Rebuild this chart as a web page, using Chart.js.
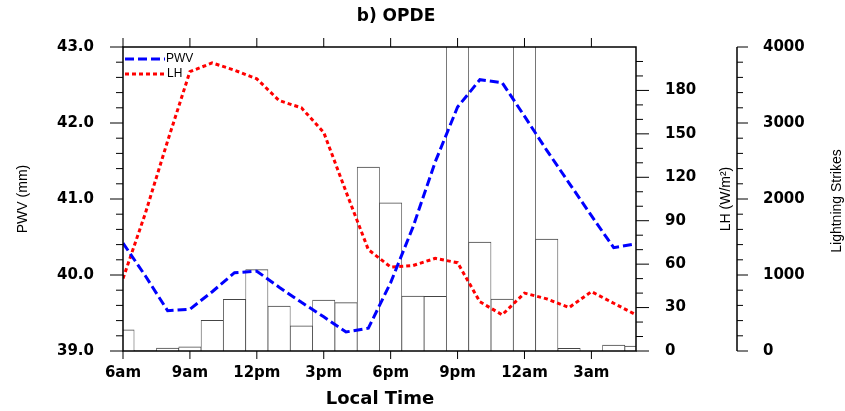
<!DOCTYPE html>
<html>
<head>
<meta charset="utf-8">
<script src="https://cdn.jsdelivr.net/npm/chart.js@4.4.1/dist/chart.umd.min.js"></script>
<style>
  html, body { margin: 0; padding: 0; background: #fff; }
  canvas { display: block; }
</style>
</head>
<body>
<canvas id="chart" width="845" height="411"></canvas>
<script>
// Hours after 6am local time (one sample per hour)
const hours = [0, 1, 2, 3, 4, 5, 6, 7, 8, 9, 10, 11, 12, 13, 14, 15, 16, 17, 18, 19, 20, 21, 22, 23];
const xTickHours = [0, 3, 6, 9, 12, 15, 18, 21];
const xTickLabels = ['6am', '9am', '12pm', '3pm', '6pm', '9pm', '12am', '3am'];

// Precipitable water vapour (mm)
const pwv = [40.42, 39.99, 39.53, 39.55, 39.78, 40.03, 40.05, 39.84, 39.64, 39.45, 39.25, 39.30,
             39.90, 40.63, 41.49, 42.21, 42.57, 42.53, 42.09, 41.64, 41.21, 40.78, 40.36, 40.41];
// Latent heat flux (W/m2)
const latentHeat = [50, 95, 145, 193, 199, 194, 188, 173, 168, 151, 110, 70,
                    58, 59, 64, 61, 34, 25, 40, 36, 30, 41, 33, 25];
// Lightning strikes per hour
const lightning = [280, 10, 38, 55, 405, 680, 1070, 592, 330, 670, 636, 2420,
                   1950, 724, 720, 4300, 1434, 684, 4200, 1474, 35, 0, 79, 66];

const pwvTicks = [39, 40, 41, 42, 43];
const lhTicks = [0, 30, 60, 90, 120, 150, 180];
const strikeTicks = [0, 1000, 2000, 3000, 4000];

const tickFont = { family: 'DejaVu Sans', weight: 'bold', size: 15 };

const frameAndLabels = {
  id: 'frameAndLabels',
  afterDraw(chart) {
    const { ctx, chartArea: a, scales } = chart;
    const xs = scales.x, yP = scales.yPWV, yH = scales.yLH, yS = scales.yL;
    const seg = (x1, y1, x2, y2) => { ctx.beginPath(); ctx.moveTo(x1, y1); ctx.lineTo(x2, y2); ctx.stroke(); };
    ctx.save();
    ctx.strokeStyle = '#000';

    // plot frame
    ctx.lineWidth = 1.5;
    ctx.strokeRect(a.left, a.top, a.right - a.left, a.bottom - a.top);
    // lightning axis spine
    seg(yS.left, a.top, yS.left, a.bottom);

    ctx.lineWidth = 1;
    // time ticks, bottom and top
    xTickHours.forEach(h => {
      const px = xs.getPixelForValue(h);
      seg(px, a.bottom, px, a.bottom + 8);
      seg(px, a.top, px, a.top - 9);
    });
    // PWV ticks (minor every 0.2)
    for (let i = 0; i <= 20; i++) {
      const py = yP.getPixelForValue(39 + i * 0.2);
      seg(a.left, py, a.left - (i % 5 === 0 ? 13 : 7), py);
    }
    // LH ticks (minor every 10)
    for (let i = 0; i <= 20; i++) {
      const py = yH.getPixelForValue(i * 10);
      seg(a.right, py, a.right + (i % 3 === 0 ? 13 : 7), py);
    }
    // lightning ticks (minor every 200)
    for (let i = 0; i <= 20; i++) {
      const py = yS.getPixelForValue(i * 200);
      seg(yS.left, py, yS.left + (i % 5 === 0 ? 11 : 6), py);
    }

    // legend
    ctx.lineWidth = 3;
    ctx.strokeStyle = '#0000ff';
    ctx.setLineDash([9, 4]);
    seg(a.left + 2, 59, a.left + 42, 59);
    ctx.strokeStyle = '#ff0000';
    ctx.setLineDash([4, 3]);
    seg(a.left + 2, 74, a.left + 42, 74);
    ctx.setLineDash([]);
    ctx.fillStyle = '#000';
    ctx.font = '12px "Liberation Sans"';
    ctx.textAlign = 'left';
    ctx.textBaseline = 'middle';
    ctx.fillText('PWV', a.left + 43, 59);
    ctx.fillText('LH', a.left + 44, 74);

    // titles
    ctx.textAlign = 'center';
    ctx.font = 'bold 17px "DejaVu Sans"';
    ctx.fillText('b) OPDE', 396, 17);
    ctx.font = 'bold 18px "DejaVu Sans"';
    ctx.fillText('Local Time', 380, 399);

    const vText = (t, x, y) => {
      ctx.save();
      ctx.translate(x, y);
      ctx.rotate(-Math.PI / 2);
      ctx.fillText(t, 0, 0);
      ctx.restore();
    };
    ctx.font = '14px "Liberation Sans"';
    vText('PWV (mm)', 23, 199);
    vText('LH (W/m\u00B2)', 726, 199);
    vText('Lightning Strikes', 837, 201);
    ctx.restore();
  }
};

const noGrid = { display: false, drawTicks: false, tickLength: 0 };

new Chart(document.getElementById('chart'), {
  type: 'bar',
  data: {
    datasets: [
      {
        type: 'line',
        label: 'PWV',
        data: hours.map((h, i) => ({ x: h, y: pwv[i] })),
        yAxisID: 'yPWV',
        borderColor: '#0000ff',
        borderWidth: 3,
        borderDash: [9, 4],
        pointRadius: 0,
        tension: 0,
        fill: false,
        clip: 0,
        order: 1
      },
      {
        type: 'line',
        label: 'LH',
        data: hours.map((h, i) => ({ x: h, y: latentHeat[i] })),
        yAxisID: 'yLH',
        borderColor: '#ff0000',
        borderWidth: 3,
        borderDash: [4, 3],
        pointRadius: 0,
        tension: 0,
        fill: false,
        clip: 0,
        order: 2
      },
      {
        type: 'bar',
        label: 'Lightning Strikes',
        data: hours.map((h, i) => ({ x: h, y: lightning[i] })),
        yAxisID: 'yL',
        backgroundColor: '#ffffff',
        borderColor: '#444444',
        borderWidth: { top: 1, left: 0.75, right: 0.75, bottom: 0 },
        barPercentage: 1,
        categoryPercentage: 1,
        clip: 0,
        order: 3
      }
    ]
  },
  options: {
    responsive: false,
    devicePixelRatio: 1,
    animation: false,
    layout: { padding: { top: 47, left: 0, right: 0, bottom: 0 } },
    plugins: { legend: { display: false }, tooltip: { enabled: false }, title: { display: false } },
    scales: {
      x: {
        type: 'linear',
        position: 'bottom',
        min: 0,
        max: 23,
        offset: false,
        grid: noGrid,
        border: { display: false },
        ticks: {
          padding: 13,
          color: '#000',
          font: tickFont,
          autoSkip: false,
          maxRotation: 0,
          callback: (v, i) => xTickLabels[i]
        },
        afterBuildTicks: s => { s.ticks = xTickHours.map(v => ({ value: v })); },
        afterFit: s => { s.height = 60; }
      },
      yPWV: {
        type: 'linear',
        position: 'left',
        min: 39,
        max: 43,
        grid: noGrid,
        border: { display: false },
        ticks: { padding: 29, color: '#000', font: tickFont, callback: v => v.toFixed(1) },
        afterBuildTicks: s => { s.ticks = pwvTicks.map(v => ({ value: v })); },
        afterFit: s => { s.width = 123; }
      },
      yLH: {
        type: 'linear',
        position: 'right',
        min: 0,
        max: 210,
        grid: noGrid,
        border: { display: false },
        ticks: { padding: 29, color: '#000', font: tickFont, callback: v => String(v) },
        afterBuildTicks: s => { s.ticks = lhTicks.map(v => ({ value: v })); },
        afterFit: s => { s.width = 101; }
      },
      yL: {
        type: 'linear',
        position: 'right',
        min: 0,
        max: 4000,
        grid: noGrid,
        border: { display: false },
        ticks: { padding: 26, color: '#000', font: tickFont, callback: v => String(v) },
        afterBuildTicks: s => { s.ticks = strikeTicks.map(v => ({ value: v })); },
        afterFit: s => { s.width = 108; }
      }
    }
  },
  plugins: [frameAndLabels]
});
</script>
</body>
</html>
